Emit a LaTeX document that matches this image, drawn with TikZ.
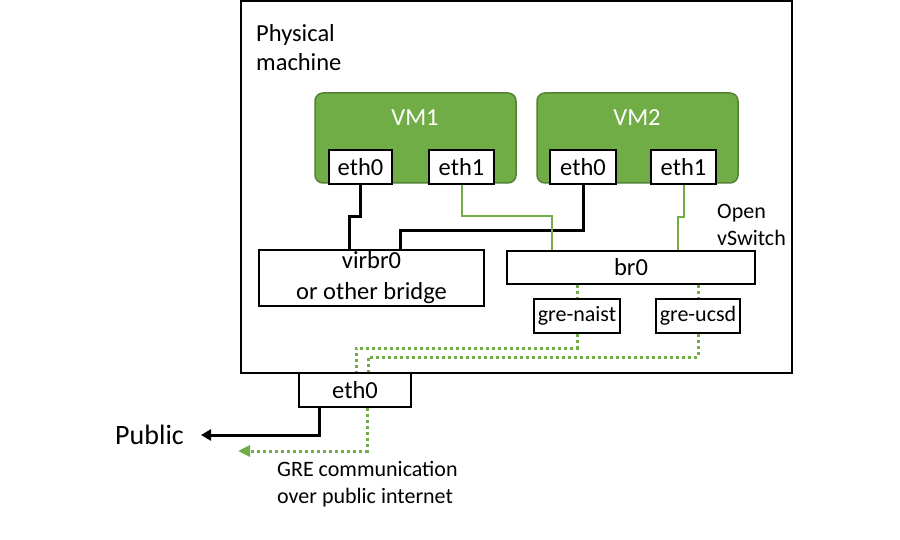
\documentclass[tikz,border=0pt]{standalone}
\usepackage{fontspec}
\setmainfont{Carlito}
\usetikzlibrary{arrows.meta}
\definecolor{vmgreen}{HTML}{70AD47}
\definecolor{vmborder}{HTML}{548235}
\begin{document}
\begin{tikzpicture}[x=1pt,y=-1pt,
  box/.style={draw=black,line width=2pt,fill=white,inner sep=0pt,align=center,font=\fontsize{24.5}{28}\selectfont},
  smallbox/.style={box,font=\fontsize{22}{26}\selectfont},
  vmbox/.style={draw=vmborder,line width=1.5pt,fill=vmgreen,rounded corners=8pt,minimum width=201pt,minimum height=90pt,inner sep=0pt},
  vmlabel/.style={text=white,inner sep=0pt,font=\fontsize{24.5}{28}\selectfont},
  label/.style={inner sep=0pt,align=left,font=\fontsize{22}{27}\selectfont},
  blackline/.style={draw=black,line width=3pt},
  greenline/.style={draw=vmgreen,line width=2pt},
  dotline/.style={draw=vmgreen,line width=3pt,dash pattern=on 3pt off 3pt},
  dotarrow/.style={dotline,-{Triangle[length=12pt,width=11pt,fill=vmgreen]}},
  blackarrow/.style={blackline,-{Triangle[length=10pt,width=11pt]}}
]
\fill[white] (0,0) rectangle (900,540);
\useasboundingbox (0,0) rectangle (900,540);

% physical machine
\node[draw=black,line width=2pt,minimum width=551pt,minimum height=372pt,inner sep=0pt] (pm) at (516.5,187) {};
\node[label,anchor=north west,font=\fontsize{24.5}{29}\selectfont] (pmlabel) at (256,24) {Physical\\machine};

% VMs
\node[vmbox] (vm1) at (415.5,138) {};
\node[vmlabel] (vm1l) at (415,118) {VM1};
\node[vmbox] (vm2) at (637.5,138) {};
\node[vmlabel] (vm2l) at (637,118) {VM2};

\node[box,minimum width=63pt,minimum height=34pt] (v1e0) at (360.5,167) {eth0};
\node[box,minimum width=65pt,minimum height=34pt] (v1e1) at (461.5,167) {eth1};
\node[box,minimum width=66pt,minimum height=34pt] (v2e0) at (583,167) {eth0};
\node[box,minimum width=65pt,minimum height=34pt] (v2e1) at (683.5,167) {eth1};

% bridges
\node[box,minimum width=225pt,minimum height=56pt] (virbr0) at (371.5,278) {virbr0\\[3pt]or other bridge};
\node[box,minimum width=248pt,minimum height=33pt] (br0) at (631,267.5) {br0};
\node[smallbox,minimum width=86pt,minimum height=34pt] (gren) at (577,316) {gre-naist};
\node[smallbox,minimum width=84pt,minimum height=34pt] (greu) at (698,316) {gre-ucsd};
\node[label,anchor=north west] (ovs) at (717,204) {Open\\vSwitch};

% host eth0
\node[box,minimum width=112pt,minimum height=34pt] (eth0) at (355,390) {eth0};

% outside
\node[inner sep=0pt,inner xsep=17pt,anchor=east,font=\fontsize{28}{32}\selectfont] (public) at (201,435) {Public};
\coordinate (gretip) at (238,451);
\node[label,anchor=north west] (gretext) at (277,461) {GRE communication\\over public internet};

% connectors
\draw[blackline] (v1e0.south) -- (v1e0.south |- 0,217) -- (349,217) -- (349,0 |- virbr0.north);
\draw[blackline] (v2e0.south) -- (v2e0.south |- 0,231) -- (400,231) -- (400,0 |- virbr0.north);
\draw[greenline] (v1e1.south) -- (v1e1.south |- 0,216) -- (552,216) -- (552,0 |- br0.north);
\draw[greenline] (v2e1.south) -- (v2e1.south |- 0,217) -- (678,217) -- (678,0 |- br0.north);

\draw[dotline] (gren.north |- br0.south) -- (gren.north);
\draw[dotline] (greu.north |- br0.south) -- (greu.north);
\draw[dotline] (gren.south) -- (gren.south |- 0,348) -- (356,348) -- (356,0 |- eth0.north);
\draw[dotline] (greu.south) -- (greu.south |- 0,357) -- (368,357) -- (368,0 |- eth0.north);

\draw[dotarrow] (367,0 |- eth0.south) -- (367,451) -- (gretip);
\draw[blackarrow] (319,0 |- eth0.south) -- (319,435) -- (public.east);
\end{tikzpicture}
\end{document}
